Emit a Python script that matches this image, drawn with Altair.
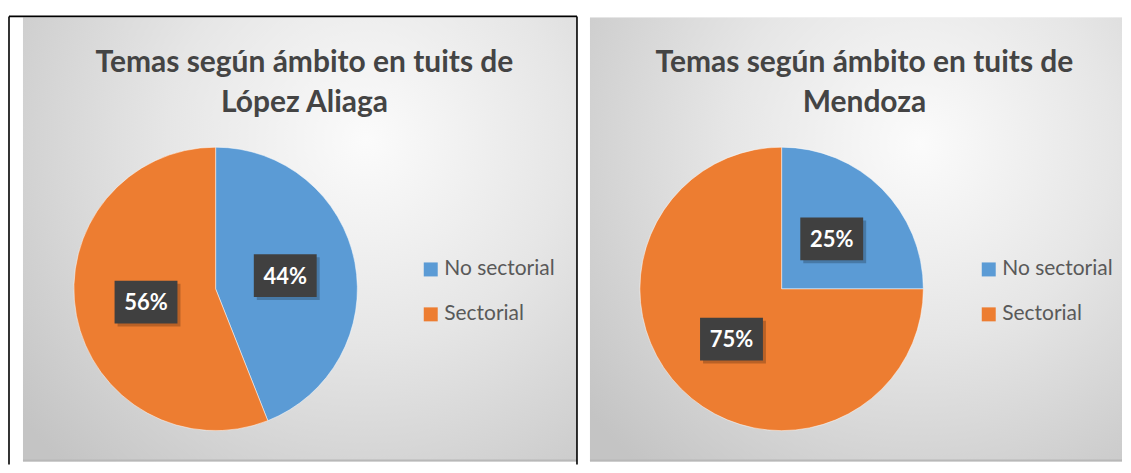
import altair as alt
import pandas as pd

# ---- data ----
categorias = ["No sectorial", "Sectorial"]
lopez_valores = [44, 56]
mendoza_valores = [25, 75]
titulo_lopez = ["Temas según ámbito en tuits de", "López Aliaga"]
titulo_mendoza = ["Temas según ámbito en tuits de", "Mendoza"]
colores = ["#5B9BD5", "#ED7D31"]

FONT = "Lato"
H = 457
CY = 281
R = 142
RL = 71

gradient = alt.RadialGradient(
    gradient="radial",
    x1=0.62, y1=0.32, r1=0.0,
    x2=0.62, y2=0.32, r2=0.8,
    stops=[
        alt.GradientStop(color="#fbfbfb", offset=0),
        alt.GradientStop(color="#e6e6e6", offset=0.45),
        alt.GradientStop(color="#c4c4c4", offset=1),
    ],
)

one = pd.DataFrame({"a": [0]})


def panel(valores, titulo, W, gx0, gx1, cx, tx, lx, borders):
    df = pd.DataFrame({
        "categoria": categorias,
        "valor": valores,
        "idx": list(range(len(valores))),
        "etiqueta": [f"{v}%" for v in valores],
    })
    base = alt.Chart(df)

    layers = []
    bg = alt.Chart(one).mark_rect(color=gradient).encode(
        x=alt.value(gx0), x2=alt.value(gx1), y=alt.value(9), y2=alt.value(454)
    )
    layers.append(bg)

    # bottom shadow line of panel
    layers.append(alt.Chart(one).mark_rule(color="#b8b8b8", strokeWidth=2).encode(
        x=alt.value(gx0), x2=alt.value(gx1), y=alt.value(453)
    ))

    pie = base.mark_arc(outerRadius=R, stroke="white", strokeWidth=0.5).encode(
        theta=alt.Theta("valor:Q", stack=True),
        order=alt.Order("idx:Q"),
        color=alt.Color(
            "categoria:N",
            scale=alt.Scale(domain=categorias, range=colores),
            legend=alt.Legend(
                title=None, orient="none", legendX=lx, legendY=251,
                symbolType="square", symbolSize=196, symbolStrokeWidth=0,
                labelFont=FONT, labelFontSize=21, labelColor="#595959",
                labelOffset=3, rowPadding=23, padding=0,
            ),
        ),
        x=alt.value(cx), y=alt.value(CY),
    )
    layers.append(pie)

    pos = base.transform_joinaggregate(total="sum(valor)").transform_window(
        cum="sum(valor)", sort=[alt.SortField("idx")], frame=[None, 0]
    ).transform_calculate(
        mid="(datum.cum - datum.valor/2)/datum.total",
        px=f"{cx} + {RL}*sin(2*PI*datum.mid)",
        py=f"{CY} - {RL}*cos(2*PI*datum.mid)",
        sx=f"{cx} + {RL}*sin(2*PI*datum.mid) + 3",
        sy=f"{CY} - {RL}*cos(2*PI*datum.mid) + 3",
    )
    box_shape = "M-1,-0.68L1,-0.68L1,0.68L-1,0.68Z"
    shadow = pos.mark_point(shape=box_shape, filled=True, size=63 * 63,
                            color="#000000", opacity=0.22).encode(
        x=alt.X("sx:Q", scale=None, axis=None),
        y=alt.Y("sy:Q", scale=None, axis=None),
    )
    box = pos.mark_point(shape=box_shape, filled=True, size=63 * 63,
                         color="#404040", opacity=1).encode(
        x=alt.X("px:Q", scale=None, axis=None),
        y=alt.Y("py:Q", scale=None, axis=None),
    )
    txt = pos.mark_text(font=FONT, fontWeight="bold", fontSize=22, color="white",
                        align="center", baseline="middle", dy=1).encode(
        x=alt.X("px:Q", scale=None, axis=None),
        y=alt.Y("py:Q", scale=None, axis=None),
        text="etiqueta:N",
    )
    layers += [shadow, box, txt]

    title = alt.Chart(one).mark_text(
        text=titulo, font=FONT, fontWeight="bold", fontSize=30, color="#444444",
        align="center", baseline="alphabetic", lineHeight=40,
    ).encode(x=alt.value(tx), y=alt.value(64))
    layers.append(title)

    for (x0, y0, x1, y1) in borders:
        layers.append(alt.Chart(one).mark_rule(color="black", strokeWidth=1.6).encode(
            x=alt.value(x0), x2=alt.value(x1), y=alt.value(y0), y2=alt.value(y1)
        ))

    return alt.layer(*layers).properties(width=W, height=H)


left = panel(lopez_valores, titulo_lopez, 575, 14, 569, 207, 296, 412,
             [(0, 8, 0, H), (0, 8, 569, 8), (569, 8, 569, H)])
right = panel(mendoza_valores, titulo_mendoza, 540, 7, 540, 199, 282, 396, [])

chart = alt.hconcat(left, right, spacing=0).resolve_scale(
    color="independent"
).resolve_legend(color="independent").properties(
    padding=0, background="white"
).configure_view(stroke=None)

chart.save("out.html", embed_options={"renderer": "svg", "actions": False})
